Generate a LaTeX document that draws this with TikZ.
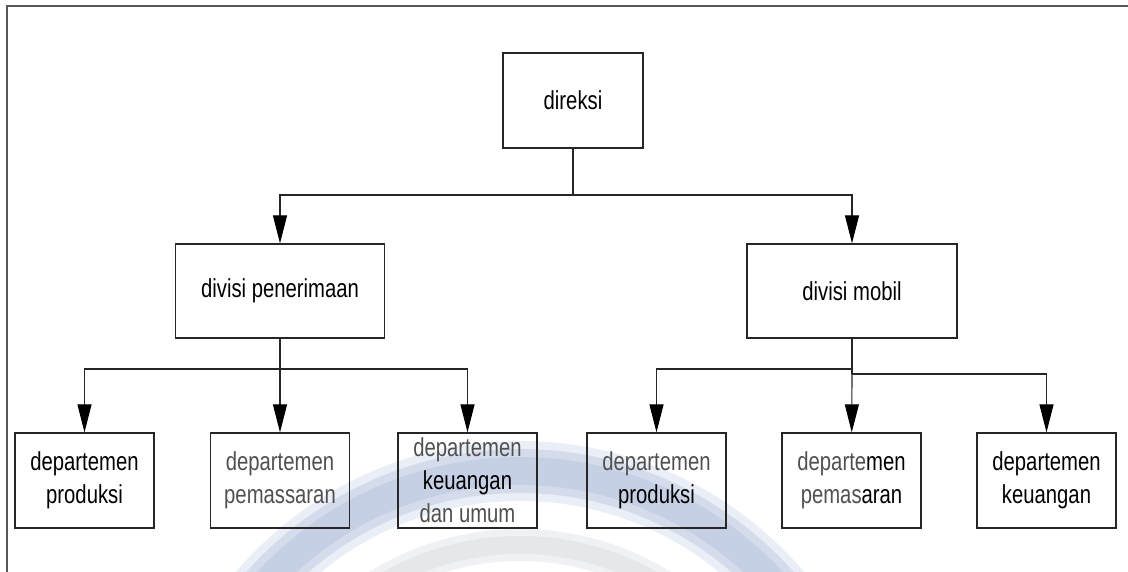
\documentclass[tikz,border=0pt]{standalone}
\usepackage{fontspec}
\setmainfont{Liberation Sans}[FakeStretch=0.78]
\usetikzlibrary{arrows.meta}
\definecolor{wmblue}{RGB}{185,198,224}
\definecolor{wmgray}{RGB}{222,224,230}
\definecolor{dim}{RGB}{80,80,80}
\begin{document}
\begin{tikzpicture}[x=0.5pt,y=-0.5pt,
  box/.style={draw=black!85,line width=0.6pt,inner sep=0pt,align=center,
    font=\fontsize{13}{16.5}\selectfont},
  unit/.style={box,minimum width=69.5pt,minimum height=47.5pt},
  link/.style={line width=0.55pt,draw=black!85},
  arr/.style={link,-{Triangle[length=14pt,width=7pt,fill=black,color=black]}}]
  \useasboundingbox (0,0) rectangle (1128,572);
  % faint ring behind the chart, soft edges
  \begin{scope}
    \clip (8,7) rectangle (1128,572);
    \draw[wmgray,line width=16pt,opacity=0.45] (520,815) circle[radius=135pt];
    \draw[wmgray,line width=9pt,opacity=0.6] (520,815) circle[radius=135pt];
    \draw[wmblue,line width=30pt,opacity=0.3] (520,815) circle[radius=172pt];
    \draw[wmblue,line width=22pt,opacity=0.45] (520,815) circle[radius=172pt];
    \draw[wmblue,line width=14pt,opacity=0.55] (520,815) circle[radius=172pt];
  \end{scope}
  \draw[black!65,line width=0.8pt] (1128,6) -- (7,6) -- (7,572);

  \node[box,minimum width=70pt,minimum height=47.5pt] (dir) at (573,100.5) {direksi};
  \node[box,minimum width=104.5pt,minimum height=47pt] (dvA) at (280,291) {divisi penerimaan};
  \node[box,minimum width=105pt,minimum height=47pt] (dvB) at (852,291) {divisi mobil};

  \node[unit] (dA1) at (84.5,480.5) {departemen\\produksi};
  \node[unit,text=dim] (dA2) at (280,480.5) {departemen\\pemassaran};
  \node[unit] (dA3) at (467.5,480.5) {{\color{dim}departemen}\\keuangan\\{\color{dim}dan umum}};
  \node[unit] (dB1) at (656.5,480.5) {{\color{dim}departemen}\\produksi};
  \node[unit] (dB2) at (851.5,480.5) {{\color{dim}departe}men\\{\color{dim}pemas}aran};
  \node[unit] (dB3) at (1046.5,480.5) {departemen\\keuangan};

  \coordinate (t0) at (573,195);
  \draw[link] (dir) -- (t0);
  \draw[arr] (t0) -| (dvA);
  \draw[arr] (t0) -| (dvB);

  \coordinate (a0) at (280,369);
  \draw[link] (dvA) -- (a0);
  \draw[arr] (a0) -| (dA1);
  \draw[arr] (a0) -- (dA2);
  \draw[arr] (a0) -| (dA3);

  \coordinate (b0) at (852,369);
  \coordinate (b1) at (852,374);
  \draw[link] (dvB) -- (b1);
  \draw[arr] (b0) -| (dB1);
  \draw[arr] (b1) -- (dB2);
  \draw[arr] (b1) -| (dB3);
\end{tikzpicture}
\end{document}
